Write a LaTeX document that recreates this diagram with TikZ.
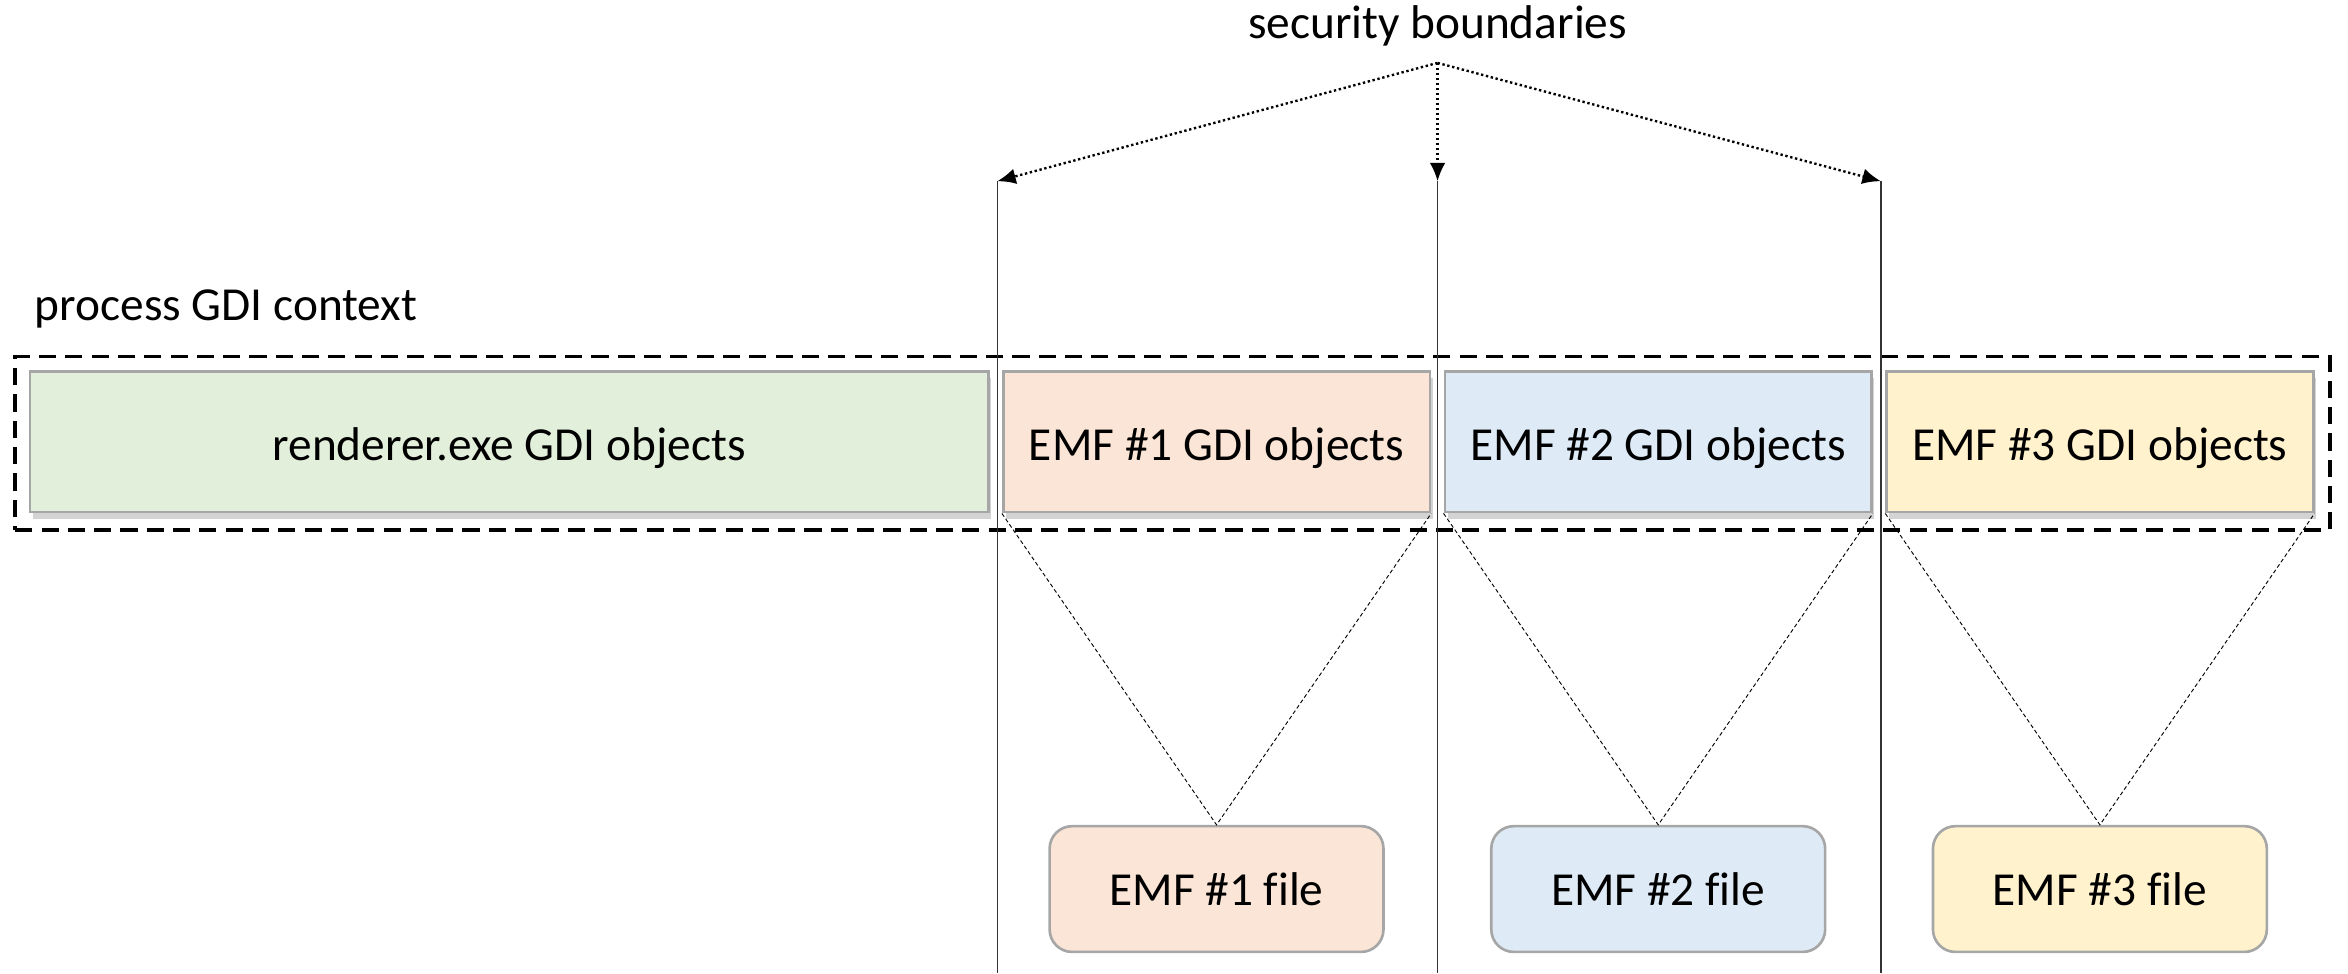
\documentclass[tikz,border=0pt]{standalone}
\usepackage{fontspec}
\setmainfont{Carlito}[Ligatures=CommonOff]
\usetikzlibrary{positioning}
\usetikzlibrary{shadows,arrows.meta}
\definecolor{rendgreen}{HTML}{E2EFDA}
\definecolor{emfpeach}{HTML}{FBE5D6}
\definecolor{emfblue}{HTML}{DEEBF7}
\definecolor{emfyellow}{HTML}{FFF2CC}
\tikzstyle{gdibox}=[draw=black!35, line width=1pt, minimum width=5.7cm, minimum height=1.88cm, inner sep=0pt, text height=17.5pt, text depth=3.5pt, drop shadow={shadow xshift=1pt, shadow yshift=-2.5pt, opacity=0.35}]
\tikzstyle{filebox}=[draw=black!35, line width=1pt, rounded corners=0.3cm, minimum width=4.46cm, minimum height=1.68cm, inner sep=0pt]
\tikzstyle{ctxbox}=[draw, line width=1.3pt, dash pattern=on 6.5pt off 3.5pt, minimum width=30.92cm, minimum height=2.32cm, inner sep=0pt]
\tikzstyle{boundary}=[draw=black!80, line width=0.6pt]
\tikzstyle{pointer}=[densely dotted, line width=0.9pt, -{Latex[length=7pt,width=6pt]}]
\tikzstyle{fan}=[dash pattern=on 1.5pt off 1pt, line width=0.35pt]

\begin{document}
\begin{tikzpicture}[x=0.02cm, y=-0.02cm, font=\fontsize{18}{22}\selectfont]
            \useasboundingbox (0,0) rectangle (1568,650);

            \node[ctxbox] (ctx) at (783,296) {};
            \node[anchor=west, inner sep=0pt] (ctxlabel) at (23,206) {process GDI context};

            \node[gdibox, fill=rendgreen, minimum width=12.8cm] (gdiR) at (340,295) {renderer.exe GDI objects};
            \node[gdibox, fill=emfpeach, right=0.165cm of gdiR] (gdiA) {EMF \#1 GDI objects};
            \node[gdibox, fill=emfblue, right=0.165cm of gdiA] (gdiB) {EMF \#2 GDI objects};
            \node[gdibox, fill=emfyellow, right=0.165cm of gdiB] (gdiC) {EMF \#3 GDI objects};

            \node[filebox, fill=emfpeach, below=4.16cm of gdiA] (fileA) {EMF \#1 file};
            \node[filebox, fill=emfblue, below=4.16cm of gdiB] (fileB) {EMF \#2 file};
            \node[filebox, fill=emfyellow, below=4.16cm of gdiC] (fileC) {EMF \#3 file};

            \draw[fan] (gdiA.south west) -- (fileA.north) -- (gdiA.south east);
            \draw[fan] (gdiB.south west) -- (fileB.north) -- (gdiB.south east);
            \draw[fan] (gdiC.south west) -- (fileC.north) -- (gdiC.south east);

            \node (secure) at (960,17) {security boundaries};
            \coordinate (apex) at (960,42);
            \coordinate (bndAtop) at (666,121);
            \coordinate (bndBtop) at (960,121);
            \coordinate (bndCtop) at (1256,121);
            \coordinate (bndAbot) at (666,650);
            \coordinate (bndBbot) at (960,650);
            \coordinate (bndCbot) at (1256,650);

            \draw[boundary] (bndAtop) -- (bndAbot);
            \draw[boundary] (bndBtop) -- (bndBbot);
            \draw[boundary] (bndCtop) -- (bndCbot);

            \draw[pointer] (apex) -- (bndAtop);
            \draw[pointer] (apex) -- (bndBtop);
            \draw[pointer] (apex) -- (bndCtop);
        \end{tikzpicture}
\end{document}
